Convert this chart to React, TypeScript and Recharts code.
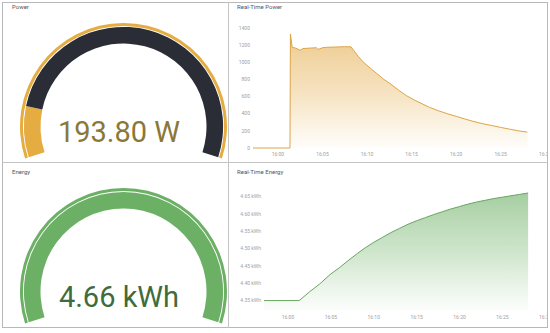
import React from "react";
import { PieChart, Pie, Cell, AreaChart, Area, XAxis, YAxis } from "recharts";

// minutes relative to 16:00
const powerMinutes = [-2.8, 1.35, 1.4, 1.6, 2.0, 2.5, 2.8, 3.5, 4.3, 4.5, 5.0, 5.5, 6.5, 7.5, 8.2, 9.0, 9.6, 10.5, 11.2, 11.9, 12.8, 13.6, 14.4, 15.3, 16.2, 17.0, 18.0, 19.0, 20.0, 21.0, 22.0, 23.0, 24.0, 25.0, 26.0, 27.0, 28.0];
const powerWatts = [0, 0, 1330, 1175, 1165, 1140, 1160, 1165, 1170, 1150, 1170, 1175, 1178, 1182, 1180, 1070, 1000, 920, 860, 800, 735, 670, 612, 560, 515, 475, 435, 400, 370, 338, 308, 283, 262, 240, 220, 200, 185];

const energyMinutes = [-2.8, 1.3, 2.5, 3.7, 4.9, 6.0, 7.0, 8.1, 9.0, 10.0, 11.0, 12.0, 13.0, 14.0, 15.0, 16.0, 17.0, 18.0, 19.0, 20.0, 21.0, 22.0, 23.0, 24.0, 25.0, 26.0, 27.0, 28.0];
const energyKwh = [4.35, 4.35, 4.375, 4.398, 4.425, 4.445, 4.465, 4.486, 4.502, 4.518, 4.532, 4.546, 4.558, 4.57, 4.58, 4.589, 4.598, 4.606, 4.614, 4.621, 4.628, 4.634, 4.639, 4.644, 4.648, 4.652, 4.656, 4.66];

const timeTicks = [0, 5, 10, 15, 20, 25, 30];
const powerTicks = [0, 200, 400, 600, 800, 1000, 1200, 1400];
const energyTicks = [4.35, 4.4, 4.45, 4.5, 4.55, 4.6, 4.65];

const powerValue = 193.8;
const powerMax = 1400;
const energyValue = 4.66;
const energyMax = 4.66;

const GOLD = "#e5ac42";
const DARK = "#2a2d36";
const GREEN = "#6cb066";
const FONT = "Roboto, 'Liberation Sans', sans-serif";

const powerData = powerMinutes.map((t, i) => ({ t, w: powerWatts[i] }));
const energyData = energyMinutes.map((t, i) => ({ t, e: energyKwh[i] }));

const fmtTime = (m: number) => `16:${String(m).padStart(2, "0")}`;
const tickStyle = { fontSize: 5, fill: "#a0a0a0", fontFamily: FONT };

const yTick = (fmt: (v: number) => string) => (p: any) => (
  <text x={p.x} y={p.y} dy="0.35em" textAnchor="end" fontSize={5} fill="#a0a0a0" fontFamily={FONT}>
    {fmt(p.payload.value)}
  </text>
);

function Gauge({ top, value, max, fill, rest, ring, text, textColor }: any) {
  const slices = [{ v: value }, { v: Math.max(max - value, 0) }];
  return (
    <div style={{ position: "absolute", left: 0, top, width: 228, height: 162 }}>
      <PieChart width={228} height={162}>
        <Pie data={[{ v: max }]} dataKey="v" cx={118.5} cy={121.5} startAngle={198} endAngle={-18}
          innerRadius={100.5} outerRadius={103.5} stroke="none" isAnimationActive={false}>
          <Cell fill={ring} />
        </Pie>
        <Pie data={slices} dataKey="v" cx={118.5} cy={121.5} startAngle={198} endAngle={-18}
          innerRadius={83} outerRadius={99.6} stroke="none" isAnimationActive={false}>
          <Cell fill={fill} />
          <Cell fill={rest} />
        </Pie>
      </PieChart>
      <svg width={228} height={162} style={{ position: "absolute", left: 0, top: 0 }}>
        <text x={119} y={142} textAnchor="middle" fontSize={29} fontFamily={FONT} fill={textColor}>{text}</text>
      </svg>
    </div>
  );
}

const title = (left: number, top: number, s: string) => (
  <div style={{ position: "absolute", left, top, fontSize: 6, color: "#555", fontFamily: FONT, lineHeight: "7px" }}>{s}</div>
);

export default function App() {
  return (
    <div style={{ position: "absolute", left: 0, top: 0, width: 550, height: 333, background: "#fff", overflow: "hidden" }}>
      <Gauge top={0} value={powerValue} max={powerMax} fill={GOLD} rest={DARK} ring={GOLD}
        text={`${powerValue.toFixed(2)} W`} textColor="#8b7838" />
      <Gauge top={165} value={energyValue} max={energyMax} fill={GREEN} rest={GREEN} ring={GREEN}
        text={`${energyValue.toFixed(2)} kWh`} textColor="#3f6b3d" />

      <div style={{ position: "absolute", left: 230, top: 0, width: 317, height: 162, overflow: "hidden" }}>
        <AreaChart width={320} height={165} data={powerData} margin={{ top: 28, right: 3, bottom: 5, left: 0 }}>
          <defs>
            <linearGradient id="pg" x1="0" y1="0" x2="0" y2="1">
              <stop offset="0%" stopColor="#e2a845" stopOpacity={1} />
              <stop offset="55%" stopColor="#e5ad4c" stopOpacity={0.55} />
              <stop offset="100%" stopColor="#e8b458" stopOpacity={0.04} />
            </linearGradient>
          </defs>
          <XAxis dataKey="t" type="number" domain={[-2.8, 30.2]} ticks={timeTicks} tickFormatter={fmtTime}
            axisLine={false} tickLine={false} tickSize={0} tickMargin={4} height={12} tick={tickStyle} interval={0} />
          <YAxis type="number" domain={[0, 1400]} ticks={powerTicks} axisLine={false} tickLine={false}
            tickSize={0} tickMargin={3} width={23} tick={yTick((v) => String(v))} interval={0} />
          <Area type="linear" dataKey="w" stroke="#dca548" strokeWidth={1} fill="url(#pg)" isAnimationActive={false} />
        </AreaChart>
      </div>

      <div style={{ position: "absolute", left: 230, top: 165, width: 317, height: 163, overflow: "hidden" }}>
        <AreaChart width={320} height={163} data={energyData} margin={{ top: 28, right: 3, bottom: 5, left: 0 }}>
          <defs>
            <linearGradient id="eg" x1="0" y1="0" x2="0" y2="1">
              <stop offset="0%" stopColor="#6aac62" stopOpacity={1} />
              <stop offset="55%" stopColor="#78b870" stopOpacity={0.55} />
              <stop offset="100%" stopColor="#8cc585" stopOpacity={0.04} />
            </linearGradient>
          </defs>
          <XAxis dataKey="t" type="number" domain={[-2.8, 30.2]} ticks={timeTicks} tickFormatter={fmtTime}
            axisLine={false} tickLine={false} tickSize={0} tickMargin={4} height={12} tick={tickStyle} interval={0} />
          <YAxis type="number" domain={[4.32, 4.66]} ticks={energyTicks} axisLine={false} tickLine={false}
            tickSize={0} tickMargin={3} width={34} interval={0}
            tick={yTick((v) => `${v.toFixed(2)} kWh`)} />
          <Area type="linear" dataKey="e" stroke="#66a660" strokeWidth={1} fill="url(#eg)" isAnimationActive={false} />
        </AreaChart>
      </div>

      {title(12, 3, "Power")}
      {title(237, 3, "Real-Time Power")}
      {title(12, 168, "Energy")}
      {title(237, 168, "Real-Time Energy")}

      <div style={{ position: "absolute", left: 2, top: 2, width: 546, height: 326, border: "1px solid #b8b8b8", boxSizing: "border-box" }} />
      <div style={{ position: "absolute", left: 228, top: 2, width: 1, height: 326, background: "#c4c4c4" }} />
      <div style={{ position: "absolute", left: 2, top: 162, width: 546, height: 1, background: "#c4c4c4" }} />
    </div>
  );
}
